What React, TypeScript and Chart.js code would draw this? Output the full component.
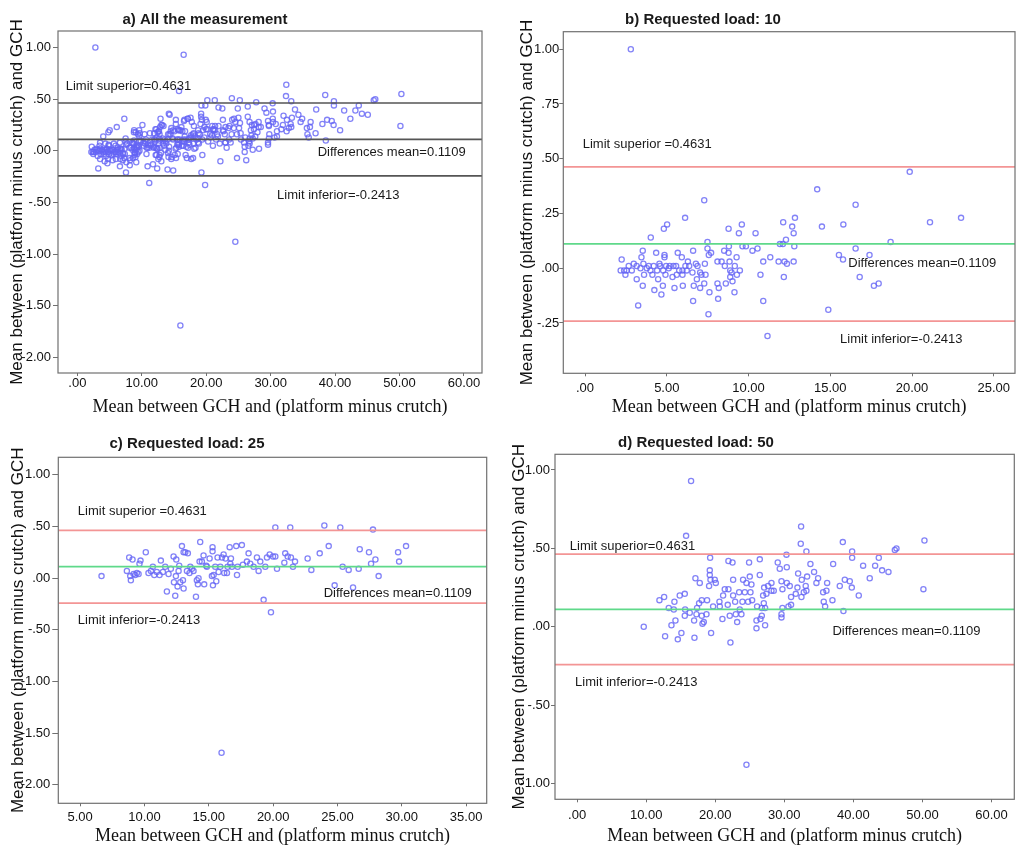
import React, { useEffect, useRef } from "react";
import Chart from "chart.js/auto";

// Bland-Altman limits
const limitSuperior = 0.4631;
const differencesMean = 0.1109;
const limitInferior = -0.2413;

// [mean between GCH and (platform minus crutch), difference]
const load10: [number, number][] = [
  [2.8, 1.0], [7.29, 0.31], [14.2, 0.36], [19.86, 0.44], [16.55, 0.29], [6.12, 0.23], [5.02, 0.2], [4.82, 0.18],
  [4.02, 0.14], [8.78, 0.18], [9.59, 0.2], [9.41, 0.16], [10.43, 0.16], [12.12, 0.21], [12.84, 0.23], [12.67, 0.19],
  [12.76, 0.16], [12.29, 0.13], [14.49, 0.19], [15.8, 0.2], [21.1, 0.21], [23.0, 0.23], [18.69, 0.12], [16.55, 0.09],
  [17.4, 0.06], [15.53, 0.06], [15.78, 0.04], [16.8, -0.04], [17.67, -0.08], [17.96, -0.07], [14.88, -0.19], [11.16, -0.31],
  [10.9, -0.15], [10.73, -0.03], [12.16, -0.04], [11.33, 0.05], [10.9, 0.03], [11.84, 0.03], [12.2, 0.03], [12.35, 0.02],
  [12.76, 0.03], [11.92, 0.11], [12.1, 0.11], [12.8, 0.1], [10.55, 0.09], [10.24, 0.08], [9.84, 0.1], [9.63, 0.1],
  [8.8, 0.1], [8.51, 0.08], [7.49, 0.12], [7.49, 0.09], [7.57, 0.06], [7.71, 0.07], [6.61, 0.08], [5.67, 0.07],
  [5.92, 0.05], [4.86, 0.06], [4.86, 0.05], [4.35, 0.07], [3.53, 0.08], [3.45, 0.05], [2.24, 0.04], [3.25, -0.17],
  [7.55, -0.21], [6.61, -0.15], [4.67, -0.12], [4.24, -0.1], [3.53, -0.08], [4.76, -0.08], [5.47, -0.09], [5.98, -0.08],
  [6.65, -0.08], [7.04, -0.09], [7.29, -0.07], [7.61, -0.11], [8.14, -0.14], [8.1, -0.07], [8.18, -0.09], [8.61, -0.07],
  [9.14, -0.11], [9.02, -0.06], [8.88, -0.04], [9.47, -0.01], [9.29, -0.03], [9.16, 0.01], [9.27, 0.05], [8.84, 0.03],
  [8.35, 0.03], [8.1, 0.03], [8.78, 0.07], [8.88, -0.01], [8.96, -0.02], [8.55, 0.01], [6.78, 0.02], [6.88, 0.01],
  [7.33, 0.02], [7.04, -0.02], [7.12, -0.03], [7.37, -0.03], [6.84, -0.05], [6.57, -0.02], [6.37, 0.01], [6.29, 0.03],
  [6.14, 0.01], [5.96, -0.01], [5.96, -0.03], [5.57, 0.01], [5.35, -0.04], [5.18, 0.01], [4.92, -0.03], [4.78, -0.01],
  [4.59, 0.01], [4.55, 0.02], [4.47, -0.05], [4.41, -0.01], [4.2, 0.01], [4.0, -0.01], [3.78, 0.0], [3.61, -0.03],
  [3.57, 0.02], [3.39, 0.0], [3.16, 0.01], [3.16, -0.05], [2.98, 0.02], [2.67, 0.01], [2.55, -0.01], [2.47, -0.03],
  [2.39, -0.01], [2.18, -0.01], [2.86, -0.01], [5.41, 0.01], [5.76, -0.01], [6.22, -0.01], [5.61, -0.03], [3.9, 0.01],
  [4.12, -0.03], [4.96, 0.01], [5.12, 0.0],
];

const load25: [number, number][] = [
  [6.66, 0.02], [8.81, 0.2], [9.07, 0.18], [8.63, 0.07], [8.89, 0.02], [8.94, -0.02], [9.15, 0.04], [9.28, 0.03],
  [9.41, 0.05], [9.61, 0.14], [9.69, 0.17], [9.54, 0.04], [10.1, 0.25], [10.31, 0.05], [10.5, 0.07], [10.65, 0.11],
  [10.76, 0.03], [10.96, 0.06], [11.17, 0.03], [11.27, 0.17], [11.43, 0.06], [11.61, 0.11], [11.74, -0.13], [11.87, 0.04],
  [12.05, 0.09], [12.26, 0.21], [12.39, -0.17], [12.47, 0.18], [12.29, -0.04], [12.44, 0.02], [12.57, -0.08], [12.65, 0.07],
  [12.7, 0.12], [12.78, -0.04], [12.91, 0.31], [13.04, 0.25], [13.04, -0.1], [12.99, -0.02], [13.17, 0.25], [13.3, 0.07],
  [13.37, 0.24], [13.5, 0.05], [13.56, 0.11], [13.69, 0.09], [13.81, 0.07], [14.0, -0.18], [14.07, -0.02], [14.2, 0.0],
  [14.33, 0.35], [14.28, 0.16], [14.15, -0.06], [14.46, 0.16], [14.59, 0.22], [14.64, -0.06], [14.8, 0.12], [14.85, 0.11],
  [15.06, 0.19], [15.24, 0.02], [15.29, 0.3], [15.29, 0.26], [15.32, -0.07], [15.37, 0.03], [15.5, 0.11], [15.58, -0.03],
  [15.68, 0.2], [15.76, 0.06], [15.89, 0.11], [16.02, 0.2], [16.15, 0.23], [16.2, 0.05], [16.3, 0.19], [16.41, 0.05],
  [16.46, 0.11], [16.62, 0.3], [16.67, 0.14], [16.72, 0.19], [16.8, 0.11], [17.13, 0.31], [17.19, 0.03], [17.24, 0.11],
  [17.57, 0.32], [17.65, 0.13], [17.96, 0.16], [18.09, 0.24], [18.22, 0.14], [18.48, 0.11], [18.74, 0.2], [18.87, 0.07],
  [19.0, 0.16], [19.26, -0.21], [19.39, 0.11], [19.52, 0.2], [19.73, 0.23], [19.83, -0.33], [19.99, 0.21], [20.17, 0.49],
  [20.17, 0.21], [20.3, 0.09], [20.87, 0.15], [20.94, 0.24], [21.13, 0.21], [21.33, 0.49], [21.38, 0.2], [21.54, 0.11],
  [21.7, 0.16], [22.68, 0.19], [22.97, 0.08], [23.62, 0.24], [23.98, 0.51], [24.32, 0.31], [24.78, -0.07], [25.22, 0.49],
  [25.4, 0.11], [25.87, 0.08], [26.21, -0.09], [26.65, 0.09], [26.73, 0.28], [27.45, 0.25], [27.61, 0.14], [27.76, 0.47],
  [27.95, 0.18], [28.2, 0.02], [29.71, 0.25], [29.79, 0.16], [30.33, 0.31], [15.99, -1.69],
];

const load50: [number, number][] = [
  [16.5, 0.93], [15.78, 0.58], [24.52, -0.88], [32.43, 0.64], [32.38, 0.53], [33.2, 0.48], [30.31, 0.46], [38.47, 0.54],
  [39.82, 0.48], [39.82, 0.44], [43.68, 0.44], [46.0, 0.49], [46.24, 0.5], [50.29, 0.55], [50.14, 0.24], [41.41, 0.39],
  [43.15, 0.39], [44.16, 0.36], [45.08, 0.35], [42.37, 0.31], [40.78, 0.2], [39.48, 0.29], [39.77, 0.25], [38.76, 0.3],
  [38.03, 0.26], [38.56, 0.1], [37.07, 0.4], [36.97, 0.17], [36.2, 0.28], [36.1, 0.23], [35.62, 0.22], [35.71, 0.16],
  [35.91, 0.13], [34.89, 0.31], [34.65, 0.28], [34.31, 0.35], [33.78, 0.4], [33.3, 0.32], [33.1, 0.26], [33.2, 0.23],
  [32.82, 0.22], [32.48, 0.19], [32.53, 0.3], [32.0, 0.34], [31.9, 0.25], [31.66, 0.21], [30.79, 0.26], [30.98, 0.19],
  [30.98, 0.14], [30.6, 0.13], [30.36, 0.38], [30.36, 0.28], [29.59, 0.29], [29.73, 0.24], [29.73, 0.12], [29.59, 0.08],
  [29.59, 0.06], [29.34, 0.37], [29.05, 0.41], [28.47, 0.23], [28.14, 0.28], [28.14, 0.23], [27.65, 0.26], [27.41, 0.21],
  [27.22, 0.12], [27.22, 0.01], [27.08, 0.25], [26.93, 0.2], [27.03, 0.15], [26.74, 0.12], [26.74, 0.07], [26.54, 0.05],
  [26.45, 0.43], [26.45, 0.33], [26.06, 0.13], [25.97, 0.04], [25.97, -0.01], [25.34, 0.17], [25.24, 0.27], [25.1, 0.22],
  [25.0, 0.32], [24.9, 0.41], [24.76, 0.16], [24.52, 0.28], [24.28, 0.22], [24.03, 0.3], [23.94, 0.16], [23.79, 0.08],
  [23.55, 0.11], [23.46, 0.22], [23.17, 0.03], [22.97, 0.08], [22.88, 0.16], [22.59, 0.3], [22.59, 0.2], [22.5, 0.41],
  [21.91, 0.42], [22.2, -0.1], [22.1, 0.07], [21.81, 0.14], [21.91, 0.24], [21.38, 0.24], [21.04, 0.05], [21.14, 0.2],
  [20.66, 0.13], [20.61, 0.16], [20.08, 0.28], [19.93, 0.3], [19.69, 0.13], [19.4, -0.04], [19.31, 0.3], [19.21, 0.36],
  [19.21, 0.33], [19.26, 0.44], [19.11, 0.26], [18.82, 0.17], [18.73, 0.08], [18.34, 0.03], [18.15, 0.02], [18.05, 0.07],
  [18.05, 0.17], [17.76, 0.28], [17.66, 0.15], [17.37, 0.12], [17.28, 0.08], [17.13, 0.31], [16.99, -0.07], [16.94, 0.04],
  [16.31, 0.09], [15.59, 0.21], [15.64, 0.11], [15.59, 0.07], [15.1, -0.04], [14.86, 0.2], [14.58, -0.08], [14.24, 0.04],
  [14.09, 0.16], [14.0, 0.11], [13.66, 0.01], [13.27, 0.12], [12.6, 0.19], [11.92, 0.17], [12.74, -0.06], [9.65, 0.0],
];

const allMeasurements = [...load10, ...load25, ...load50];

// tick labels
const ticksAX = [0, 10, 20, 30, 40, 50, 60];
const ticksAY = [-2, -1.5, -1, -0.5, 0, 0.5, 1];
const ticksBX = [0, 5, 10, 15, 20, 25];
const ticksBY = [-0.25, 0, 0.25, 0.5, 0.75, 1];
const ticksCX = [5, 10, 15, 20, 25, 30, 35];
const ticksCY = [-2, -1.5, -1, -0.5, 0, 0.5, 1];
const ticksDX = [0, 10, 20, 30, 40, 50, 60];
const ticksDY = [-1, -0.5, 0, 0.5, 1];

const X_TITLE = "Mean between GCH and (platform minus crutch)";
const Y_TITLE = "Mean between (platform minus crutch) and GCH";

const fmt = (v: number) => {
  const s = Math.abs(v).toFixed(2).replace(/^0/, "");
  return (v < 0 ? "-" : "") + s;
};

const supText = `Limit superior=${limitSuperior}`;
const supText2 = `Limit superior =${limitSuperior}`;
const meanText = `Differences mean=${differencesMean}`;
const infText = `Limit inferior=${limitInferior}`;

const panels: any[] = [
  {
    title: "a) All the measurement", titleX: 205, titleY: 20,
    left: 0, top: 0, width: 500, height: 420,
    area: { left: 58, top: 31, right: 482, bottom: 373 },
    points: allMeasurements, xTicks: ticksAX, yTicks: ticksAY,
    xMin: -3, xMax: 62.8, yMin: -2.15, yMax: 1.16,
    yTitlePad: 6.8, xTitlePad: 1.7, yTick: [5, 2], xTick: [3, 0],
    colors: ["#555555", "#555555", "#555555"],
    notes: [
      { text: supText, x: -1.8, y: 0.626 },
      { text: meanText, x: 37.3, y: -0.013 },
      { text: infText, x: 31.0, y: -0.43 },
    ],
  },
  {
    title: "b) Requested load: 10", titleX: 198, titleY: 20,
    left: 505, top: 0, width: 519, height: 420,
    area: { left: 58.3, top: 31.7, right: 510, bottom: 373.3 },
    points: load10, xTicks: ticksBX, yTicks: ticksBY,
    xMin: -1.33, xMax: 26.3, yMin: -0.48, yMax: 1.08,
    yTitlePad: 11.8, xTitlePad: 1.9, yTick: [4, 0], xTick: [3, 4],
    colors: ["#f39595", "#5fd98a", "#f39595"],
    notes: [
      { text: supText2, x: -0.14, y: 0.567 },
      { text: meanText, x: 16.1, y: 0.023 },
      { text: infText, x: 15.6, y: -0.327 },
    ],
  },
  {
    title: "c) Requested load: 25", titleX: 187, titleY: 19,
    left: 0, top: 425, width: 500, height: 428,
    area: { left: 58.3, top: 32.3, right: 486.7, bottom: 378.3 },
    points: load25, xTicks: ticksCX, yTicks: ticksCY,
    xMin: 3.3, xMax: 36.6, yMin: -2.18, yMax: 1.17,
    yTitlePad: 8.3, xTitlePad: 5.5, yTick: [6, 2], xTick: [3, 3],
    colors: ["#f39595", "#5fd98a", "#f39595"],
    notes: [
      { text: supText2, x: 4.82, y: 0.645 },
      { text: meanText, x: 23.93, y: -0.152 },
      { text: infText, x: 4.82, y: -0.413 },
    ],
  },
  {
    title: "d) Requested load: 50", titleX: 191, titleY: 18,
    left: 505, top: 425, width: 519, height: 428,
    area: { left: 50, top: 29.3, right: 509.3, bottom: 374.3 },
    points: load50, xTicks: ticksDX, yTicks: ticksDY,
    xMin: -3.2, xMax: 63.3, yMin: -1.1, yMax: 1.1,
    yTitlePad: 3.8, xTitlePad: 5.5, yTick: [4, 1], xTick: [3, 5],
    colors: ["#f39595", "#5fd98a", "#f39595"],
    notes: [
      { text: supText, x: -1.06, y: 0.51 },
      { text: meanText, x: 36.97, y: -0.03 },
      { text: infText, x: -0.29, y: -0.352 },
    ],
  },
];

// box around the plot, panel title and the limit labels
const decorPlugin = {
  id: "decor",
  afterDraw(chart: any, _args: any, opts: any) {
    const { ctx, chartArea: a, scales } = chart;
    ctx.save();
    ctx.strokeStyle = "#707070";
    ctx.lineWidth = 1.2;
    ctx.strokeRect(a.left, a.top, a.right - a.left, a.bottom - a.top);

    ctx.fillStyle = "#1a1a1a";
    ctx.font = "bold 15px 'Liberation Sans', Arial, sans-serif";
    ctx.textAlign = "center";
    ctx.textBaseline = "middle";
    ctx.fillText(opts.title, opts.titleX, opts.titleY);

    ctx.font = "13px 'Liberation Sans', Arial, sans-serif";
    ctx.textAlign = "left";
    opts.notes.forEach((n: any) => {
      ctx.fillText(n.text, scales.x.getPixelForValue(n.x), scales.y.getPixelForValue(n.y));
    });
    ctx.restore();
  },
};

const Panel = ({ cfg }: { cfg: any }) => {
  const chartRef = useRef<HTMLCanvasElement>(null);
  const chartInstance = useRef<any>(null);

  useEffect(() => {
    if (!chartRef.current) return;
    if (chartInstance.current) chartInstance.current.destroy();

    const hLine = (y: number, color: string) => ({
      type: "scatter" as const,
      data: [{ x: cfg.xMin, y }, { x: cfg.xMax, y }],
      showLine: true,
      borderColor: color,
      borderWidth: 1.7,
      pointRadius: 0,
      pointHoverRadius: 0,
    });

    chartInstance.current = new Chart(chartRef.current, {
      type: "scatter",
      data: {
        datasets: [
          hLine(limitSuperior, cfg.colors[0]),
          hLine(differencesMean, cfg.colors[1]),
          hLine(limitInferior, cfg.colors[2]),
          {
            data: cfg.points.map(([x, y]: [number, number]) => ({ x, y })),
            pointStyle: "circle",
            pointRadius: 2.6,
            pointBorderWidth: 1.3,
            borderColor: "rgba(100,100,245,0.8)",
            backgroundColor: "rgba(0,0,0,0)",
          } as any,
        ],
      },
      options: {
        animation: false,
        responsive: false,
        layout: {
          padding: {
            left: 0,
            top: cfg.area.top,
            right: cfg.width - cfg.area.right,
            bottom: 0,
          },
        },
        plugins: {
          legend: { display: false },
          tooltip: { enabled: false },
          decor: cfg,
        } as any,
        scales: {
          x: {
            type: "linear",
            min: cfg.xMin,
            max: cfg.xMax,
            afterBuildTicks: (s: any) => {
              s.ticks = cfg.xTicks.map((v: number) => ({ value: v }));
            },
            afterFit: (s: any) => {
              s.height = cfg.height - cfg.area.bottom;
            },
            border: { display: false },
            grid: { drawOnChartArea: false, drawTicks: true, tickLength: cfg.xTick[0], color: "#707070" },
            ticks: {
              autoSkip: false,
              maxRotation: 0,
              padding: cfg.xTick[1],
              color: "#111",
              font: { family: "'Liberation Sans', Arial, sans-serif", size: 13 },
              callback: (v: any) => fmt(Number(v)),
            },
            title: {
              display: true,
              text: X_TITLE,
              color: "#111",
              font: { family: "'Liberation Serif', 'Times New Roman', serif", size: 18 },
              padding: { top: 0, bottom: cfg.xTitlePad },
            },
          },
          y: {
            type: "linear",
            min: cfg.yMin,
            max: cfg.yMax,
            afterBuildTicks: (s: any) => {
              s.ticks = cfg.yTicks.map((v: number) => ({ value: v }));
            },
            afterFit: (s: any) => {
              s.width = cfg.area.left;
            },
            border: { display: false },
            grid: { drawOnChartArea: false, drawTicks: true, tickLength: cfg.yTick[0], color: "#707070" },
            ticks: {
              autoSkip: false,
              padding: cfg.yTick[1],
              color: "#111",
              font: { family: "'Liberation Sans', Arial, sans-serif", size: 13 },
              callback: (v: any) => fmt(Number(v)),
            },
            title: {
              display: true,
              text: Y_TITLE,
              color: "#111",
              font: { family: "'Liberation Sans', Arial, sans-serif", size: 17 },
              padding: { top: cfg.yTitlePad, bottom: 0 },
            },
          },
        },
      },
      plugins: [decorPlugin],
    });

    return () => {
      if (chartInstance.current) {
        chartInstance.current.destroy();
        chartInstance.current = null;
      }
    };
  }, [cfg]);

  return (
    <canvas
      ref={chartRef}
      width={cfg.width}
      height={cfg.height}
      style={{
        position: "absolute",
        left: cfg.left,
        top: cfg.top,
        width: cfg.width,
        height: cfg.height,
      }}
    />
  );
};

const App = () => {
  return (
    <div
      style={{
        position: "fixed",
        left: 0,
        top: 0,
        width: 1024,
        height: 853,
        background: "#fff",
        overflow: "hidden",
      }}
    >
      {panels.map((p) => (
        <Panel key={p.title} cfg={p} />
      ))}
    </div>
  );
};

export default App;
